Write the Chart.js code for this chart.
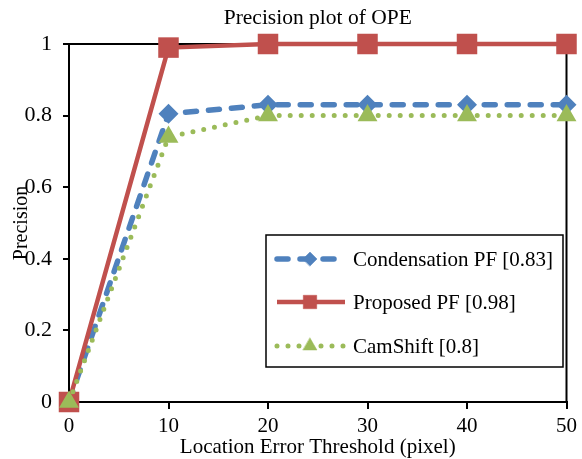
<!DOCTYPE html>
<html>
<head>
<meta charset="utf-8">
<script src="https://cdn.jsdelivr.net/npm/chart.js@4"></script>
<style>
  html, body { margin: 0; padding: 0; background: #fff; }
  #wrap { width: 582px; height: 459px; }
</style>
</head>
<body>
<div id="wrap"><canvas id="opeChart" width="582" height="459"></canvas></div>
<script>
// Precision plot of OPE
const thresholds = [0, 10, 20, 30, 40, 50];
const condensationPF = [0, 0.805, 0.83, 0.83, 0.83, 0.83];
const proposedPF = [0, 0.99, 1, 1, 1, 1];
const camShift = [0, 0.74, 0.80, 0.80, 0.80, 0.80];
const seriesNames = ['Condensation PF [0.83]', 'Proposed PF [0.98]', 'CamShift [0.8]'];
const xTicks = [0, 10, 20, 30, 40, 50];
const yTicks = [0, 0.2, 0.4, 0.6, 0.8, 1];

const FONT = "'Liberation Serif', 'Times New Roman', serif";
const BLUE = '#4F81BD', RED = '#C0504D', GREEN = '#9BBB59';

const toPoints = arr => arr.map((v, i) => ({ x: thresholds[i], y: v }));

// top and right frame lines
const framePlugin = {
  id: 'frame',
  beforeDatasetsDraw(chart) {
    const a = chart.chartArea, ctx = chart.ctx;
    ctx.save();
    ctx.strokeStyle = '#000';
    ctx.lineWidth = 2;
    ctx.beginPath();
    ctx.moveTo(a.left, a.top);
    ctx.lineTo(a.right, a.top);
    ctx.lineTo(a.right, a.bottom);
    ctx.stroke();
    ctx.restore();
  }
};

// legend box inside the plot area
const boxLegend = {
  id: 'boxLegend',
  afterDatasetsDraw(chart) {
    const ctx = chart.ctx;
    const bx = 266, by = 235, bw = 297, bh = 132;
    ctx.save();
    ctx.fillStyle = '#fff';
    ctx.fillRect(bx, by, bw, bh);
    ctx.strokeStyle = '#000';
    ctx.lineWidth = 1.5;
    ctx.strokeRect(bx, by, bw, bh);
    const rowY = [259, 302, 346];
    const legendSizes = [7, 9.5, 8];
    chart.data.datasets.forEach((ds, i) => {
      const y = rowY[i];
      ctx.save();
      ctx.strokeStyle = ds.borderColor;
      ctx.lineWidth = ds.borderWidth;
      ctx.lineCap = ds.borderCapStyle || 'butt';
      ctx.setLineDash(ds.borderDash || []);
      ctx.beginPath();
      ctx.moveTo(277, y);
      ctx.lineTo(345, y);
      ctx.stroke();
      ctx.setLineDash([]);
      ctx.fillStyle = ds.pointBackgroundColor;
      ctx.strokeStyle = ds.pointBackgroundColor;
      ctx.lineWidth = 0.5;
      Chart.helpers.drawPoint(ctx, { pointStyle: ds.pointStyle, radius: legendSizes[i], rotation: 0, borderWidth: 0.5 }, 310, y);
      ctx.restore();
      ctx.fillStyle = '#000';
      ctx.font = '21px ' + FONT;
      ctx.textBaseline = 'middle';
      ctx.textAlign = 'left';
      ctx.fillText(ds.label, 353, y + 1);
    });
    ctx.restore();
  }
};

new Chart(document.getElementById('opeChart').getContext('2d'), {
  type: 'line',
  data: {
    datasets: [{
      label: seriesNames[0],
      data: toPoints(condensationPF),
      borderColor: BLUE,
      borderWidth: 5.5,
      borderDash: [11, 12],
      borderCapStyle: 'round',
      pointStyle: 'rectRot',
      pointRadius: 10,
      pointBackgroundColor: BLUE,
      pointBorderColor: BLUE,
      pointBorderWidth: 0,
      order: 2
    }, {
      label: seriesNames[1],
      data: toPoints(proposedPF),
      borderColor: RED,
      borderWidth: 4.5,
      pointStyle: 'rect',
      pointRadius: 14.5,
      pointBackgroundColor: RED,
      pointBorderColor: RED,
      pointBorderWidth: 0,
      order: 1
    }, {
      label: seriesNames[2],
      data: toPoints(camShift),
      borderColor: GREEN,
      borderWidth: 5,
      borderDash: [0, 11],
      borderCapStyle: 'round',
      pointStyle: 'triangle',
      pointRadius: 11.5,
      pointBackgroundColor: GREEN,
      pointBorderColor: GREEN,
      pointBorderWidth: 0,
      order: 0
    }]
  },
  options: {
    responsive: false,
    animation: false,
    clip: false,
    layout: { padding: { top: 0, right: 13, left: 0, bottom: 0 } },
    plugins: {
      legend: { display: false },
      tooltip: { enabled: false },
      title: {
        display: true,
        text: 'Precision plot of OPE',
        color: '#000',
        fullSize: false,
        font: { family: FONT, size: 21.5, weight: 'normal' },
        padding: { top: 5, bottom: 13.2 }
      }
    },
    scales: {
      x: {
        type: 'linear',
        min: 0,
        max: 50,
        afterBuildTicks: s => { s.ticks = xTicks.map(v => ({ value: v })); },
        afterFit: s => { s.height = 57; },
        grid: { display: true, drawOnChartArea: false, drawTicks: true, tickLength: 7, color: '#000', lineWidth: 2 },
        border: { display: true, color: '#000', width: 2 },
        ticks: { color: '#000', font: { family: FONT, size: 21 }, padding: 5, maxRotation: 0 },
        title: {
          display: true,
          text: 'Location Error Threshold (pixel)',
          color: '#000',
          font: { family: FONT, size: 21 },
          padding: { top: 0, bottom: -1 }
        }
      },
      y: {
        min: 0,
        max: 1,
        afterBuildTicks: s => { s.ticks = yTicks.map(v => ({ value: v })); },
        afterFit: s => { s.width = 69; },
        grid: { display: true, drawOnChartArea: false, drawTicks: true, tickLength: 6, color: '#000', lineWidth: 2 },
        border: { display: true, color: '#000', width: 2 },
        ticks: {
          color: '#000',
          font: { family: FONT, size: 22 },
          padding: 11,
          callback: v => String(Number(v.toFixed(1)))
        },
        title: {
          display: true,
          text: 'Precision',
          color: '#000',
          font: { family: FONT, size: 20 },
          padding: { top: 10, bottom: 0 }
        }
      }
    }
  },
  plugins: [framePlugin, boxLegend]
});
</script>
</body>
</html>
